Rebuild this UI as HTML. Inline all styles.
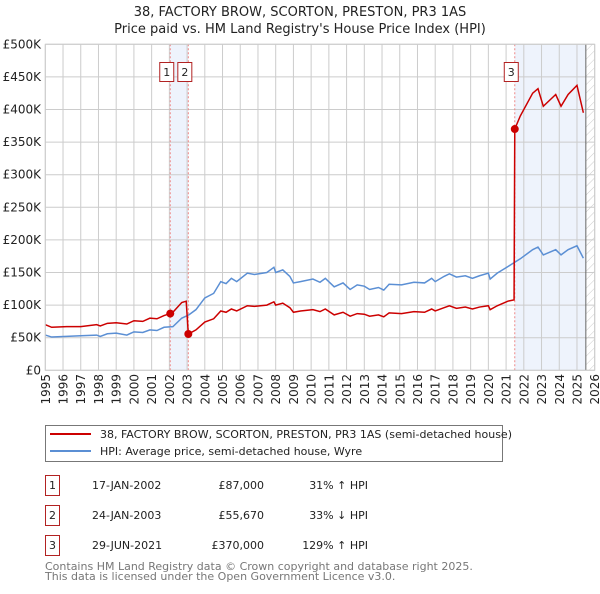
<!DOCTYPE html>
<html><head><meta charset="utf-8"><style>
body{margin:0;background:#fff;font-family:"DejaVu Sans","Liberation Sans",sans-serif;}
svg text{font-family:"DejaVu Sans","Liberation Sans",sans-serif;}
</style></head><body>
<svg id="c" width="600" height="590" viewBox="0 0 600 590" xmlns="http://www.w3.org/2000/svg">
<defs><pattern id="hatch" width="6" height="6" patternUnits="userSpaceOnUse" patternTransform="rotate(45)"><line x1="0" y1="0" x2="0" y2="6" stroke="#ccc" stroke-width="1"/></pattern></defs>
<text x="300" y="16" text-anchor="middle" font-size="13" fill="#222">38, FACTORY BROW, SCORTON, PRESTON, PR3 1AS</text>
<text x="300" y="33" text-anchor="middle" font-size="13" fill="#222">Price paid vs. HM Land Registry's House Price Index (HPI)</text>
<g id="plot"></g>
<g>
<rect x="45.5" y="425.5" width="457" height="36" fill="#fff" stroke="#777"/>
<line x1="50" y1="434" x2="91" y2="434" stroke="#cc0000" stroke-width="2"/>
<text x="100" y="438" font-size="11" fill="#222">38, FACTORY BROW, SCORTON, PRESTON, PR3 1AS (semi-detached house)</text>
<line x1="50" y1="451" x2="91" y2="451" stroke="#5b8fd4" stroke-width="2"/>
<text x="100" y="455" font-size="11" fill="#222">HPI: Average price, semi-detached house, Wyre</text>
</g>
<g id="table" font-size="11" fill="#222"></g>
<text x="45" y="570" font-size="11" fill="#777">Contains HM Land Registry data © Crown copyright and database right 2025.</text>
<text x="45" y="580" font-size="11" fill="#777">This data is licensed under the Open Government Licence v3.0.</text>
</svg>
<script>
const yTicks=[0,50,100,150,200,250,300,350,400,450,500];
const yTickLabels=["£0","£50K","£100K","£150K","£200K","£250K","£300K","£350K","£400K","£450K","£500K"];
const xYears=[1995,1996,1997,1998,1999,2000,2001,2002,2003,2004,2005,2006,2007,2008,2009,2010,2011,2012,2013,2014,2015,2016,2017,2018,2019,2020,2021,2022,2023,2024,2025,2026];
const hpiYears=[1995.0,1995.36,1996.2,1997.0,1997.9,1998.1,1998.5,1999.0,1999.6,2000.0,2000.5,2000.9,2001.3,2001.7,2002.2,2002.7,2003.1,2003.5,2004.0,2004.5,2004.9,2005.2,2005.5,2005.8,2006.4,2006.8,2007.5,2007.9,2008.0,2008.4,2008.8,2009.0,2009.4,2010.1,2010.5,2010.8,2011.3,2011.8,2012.2,2012.6,2013.0,2013.3,2013.8,2014.1,2014.4,2015.1,2015.8,2016.4,2016.8,2017.0,2017.5,2017.8,2018.2,2018.7,2019.1,2019.5,2020.0,2020.1,2020.5,2021.1,2021.8,2022.5,2022.8,2023.1,2023.8,2024.1,2024.5,2025.0,2025.36];
const hpiValues=[54,51,52,53,54,52,56,57,54,59,58,62,61,66,67,80,85,93,111,118,136,133,141,136,149,147,150,158,150,154,144,134,136,140,135,141,128,134,124,131,129,124,127,123,132,131,135,134,141,136,144,148,143,145,141,145,149,140,149,159,171,185,189,177,185,177,185,191,172];
const priceYears=[1995.0,1995.36,1996.2,1997.0,1997.9,1998.1,1998.5,1999.0,1999.6,2000.0,2000.5,2000.9,2001.3,2001.7,2002.05,2002.2,2002.7,2002.95,2003.07,2003.5,2004.0,2004.5,2004.9,2005.2,2005.5,2005.8,2006.4,2006.8,2007.5,2007.9,2008.0,2008.4,2008.8,2009.0,2009.4,2010.1,2010.5,2010.8,2011.3,2011.8,2012.2,2012.6,2013.0,2013.3,2013.8,2014.1,2014.4,2015.1,2015.8,2016.4,2016.8,2017.0,2017.5,2017.8,2018.2,2018.7,2019.1,2019.5,2020.0,2020.1,2020.5,2021.1,2021.45,2021.49,2021.8,2022.5,2022.8,2023.1,2023.8,2024.1,2024.5,2025.0,2025.36];
const priceValues=[70,66,67,67,70,68,72,73,71,76,75,80,79,84,87,89,104,106,55.67,62,74,79,91,89,94,91,99,98,100,105,100,103,96,89,91,93,90,94,85,89,83,87,86,83,85,82,88,87,90,89,94,91,96,99,95,97,94,97,99,93,99,106,108,370,390,425,432,405,423,405,423,437,395];
const saleLabels=["1","2","3"];
const saleYears=[2002.05,2003.07,2021.49];
const saleValues=[87,55.67,370];
const saleDates=["17-JAN-2002","24-JAN-2003","29-JUN-2021"];
const salePrices=["£87,000","£55,670","£370,000"];
const saleHpi=["31% ↑ HPI","33% ↓ HPI","129% ↑ HPI"];
const dataEnd=2025.5;

const L=45.3,R=594.7,T=44.3,B=370.3;
const x=y=>L+(y-1995)/(2026-1995)*(R-L);
const yv=v=>B-v/500*(B-T);
const NS="http://www.w3.org/2000/svg";
const plot=document.getElementById('plot');
function mk(tag,attrs,parent){const e=document.createElementNS(NS,tag);for(const k in attrs)e.setAttribute(k,attrs[k]);(parent||plot).appendChild(e);return e;}
let b1=mk('rect',{x:x(saleYears[0]),y:T,width:x(saleYears[1])-x(saleYears[0]),height:B-T,fill:'#eef3fc'});


let b2=mk('rect',{x:x(saleYears[2]),y:T,width:x(dataEnd)-x(saleYears[2]),height:B-T,fill:'#eef3fc'});


let hz=mk('rect',{x:x(dataEnd),y:T,width:R-x(dataEnd),height:B-T,fill:'url(#hatch)'});


yTicks.forEach((t,i)=>{
 let g=mk('line',{x1:L,x2:R,y1:yv(t),y2:yv(t),stroke:'#ccc','stroke-width':1});
 
 
 let tx=mk('text',{x:41,y:yv(t)+4,'text-anchor':'end','font-size':12,fill:'#222'});
 tx.textContent=yTickLabels[i];
 
 
});
xYears.forEach(yr=>{
 let g=mk('line',{x1:x(yr),x2:x(yr),y1:T,y2:B,stroke:'#ccc','stroke-width':1});
 
 
 let tx=mk('text',{x:0,y:0,'text-anchor':'end','font-size':12,fill:'#222',transform:`translate(${x(yr)+4.5},374) rotate(-90)`});
 tx.textContent=yr;
 
 
});
let dl=mk('line',{x1:x(dataEnd),x2:x(dataEnd),y1:T,y2:B,stroke:'#666','stroke-width':1});


saleYears.forEach((s,i)=>{
 let l=mk('line',{x1:x(s),x2:x(s),y1:T,y2:B,stroke:'#e88','stroke-width':1,'stroke-dasharray':'2,2'});
 
 
});
let hp=mk('polyline',{points:hpiYears.map((d,i)=>x(d)+','+yv(hpiValues[i])).join(' '),fill:'none',stroke:'#5b8fd4','stroke-width':1.5});


let pp=mk('polyline',{points:priceYears.map((d,i)=>x(d)+','+yv(priceValues[i])).join(' '),fill:'none',stroke:'#cc0000','stroke-width':1.5});


saleYears.forEach((s,i)=>{
 let c=mk('circle',{cx:x(s),cy:yv(saleValues[i]),r:4,fill:'#cc0000'});
 
 
 let bx=x(s)-3.5;
 let r=mk('rect',{x:bx-7,y:62.5,width:14,height:19,fill:'#fff',stroke:'#b22222'});
 
 
 let t=mk('text',{x:bx,y:76,'text-anchor':'middle','font-size':11,fill:'#222'});
 t.textContent=saleLabels[i];
 
 
});
let fr=mk('rect',{x:L,y:T,width:R-L,height:B-T,fill:'none',stroke:'#ccc'});


const tb=document.getElementById('table');
saleLabels.forEach((s,i)=>{
 const cy=486+i*30;
 let r=mk('rect',{x:45.5,y:cy-10.5,width:14,height:20,fill:'#fff',stroke:'#b22222'},tb);
 
 
 let t=mk('text',{x:52.5,y:cy+3,'text-anchor':'middle'},tb);t.textContent=s;
 
 
 let d=mk('text',{x:92,y:cy+3},tb);d.textContent=saleDates[i];
 
 
 let p=mk('text',{x:264,y:cy+3,'text-anchor':'end'},tb);p.textContent=salePrices[i];
 
 
 let h=mk('text',{x:368,y:cy+3,'text-anchor':'end'},tb);h.textContent=saleHpi[i];
 
 
});
</script>
</body></html>
